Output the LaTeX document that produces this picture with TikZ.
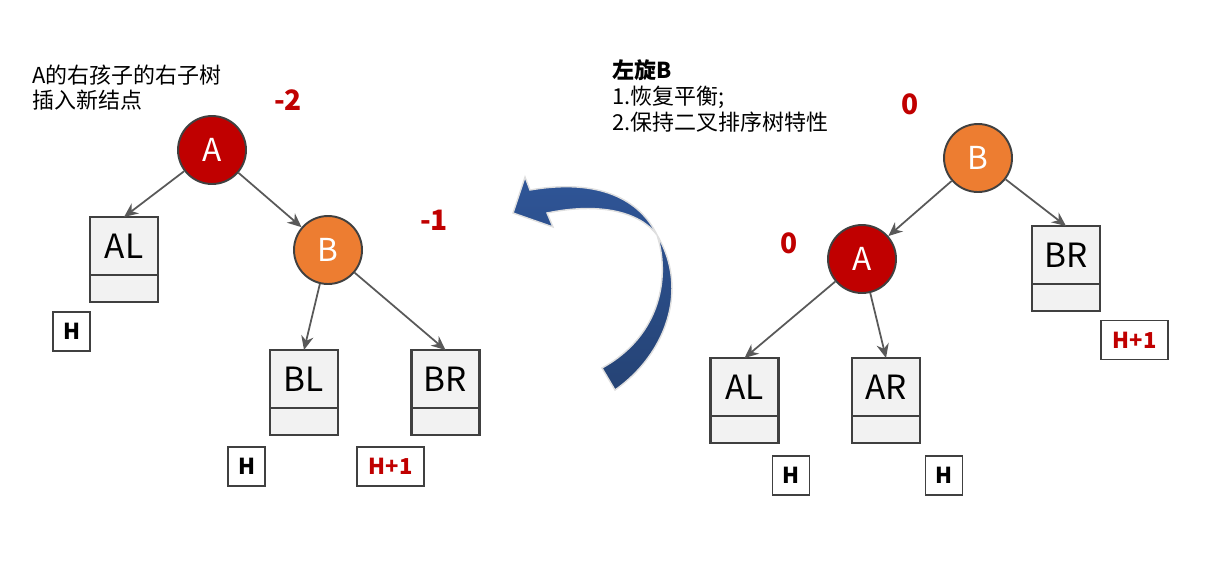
\documentclass[tikz,border=0pt]{standalone}
\usepackage{fontspec}
\newfontfamily\cjk{Noto Sans CJK SC}
\usetikzlibrary{positioning,arrows.meta}

\definecolor{nodered}{HTML}{C00000}
\definecolor{nodeorange}{HTML}{ED7D31}
\definecolor{edgegray}{HTML}{595959}
\definecolor{boxgray}{HTML}{F2F2F2}
\definecolor{linegray}{HTML}{404040}
\definecolor{arrowtop}{HTML}{2F5597}
\definecolor{arrowbot}{HTML}{254375}

\tikzset{
  treenode/.style={circle, draw=linegray, line width=1.1pt, minimum size=1.36cm,
    inner sep=0pt, text=white, font=\cjk\fontsize{18}{20}\selectfont},
  subtree/.style={rectangle, draw=linegray, fill=boxgray, line width=1.5pt,
    minimum width=1.36cm, minimum height=1.16cm, inner sep=0pt, outer sep=0pt,
    font=\cjk\fontsize{19}{22}\selectfont},
  subfoot/.style={rectangle, draw=linegray, fill=boxgray, line width=1.5pt,
    minimum width=1.36cm, minimum height=0.54cm, inner sep=0pt, outer sep=0pt},
  heightbox/.style={rectangle, draw=linegray, line width=0.8pt, minimum height=0.78cm,
    minimum width=0.74cm, inner sep=0pt, font=\cjk\bfseries\fontsize{12.5}{14}\selectfont},
  balance/.style={text=nodered, font=\cjk\bfseries\fontsize{16}{18}\selectfont},
  edge/.style={draw=edgegray, line width=1pt, -{Stealth[length=8pt,width=7pt]}},
  note/.style={align=left, anchor=west, inner sep=0pt}
}

\begin{document}
\begin{tikzpicture}[x=0.02cm, y=-0.02cm]

    \useasboundingbox (0,0) rectangle (1222,565);

    %----- NOTES -----
    \node[note, font=\cjk\fontsize{12.5}{14.2}\selectfont] (leftnote) at (32,87.5)
        {A的右孩子的右子树\\插入新结点};
    \node[note, font=\cjk\fontsize{12.5}{14.8}\selectfont] (rightnote) at (612,96)
        {{\bfseries 左旋B}\\1.恢复平衡;\\2.保持二叉排序树特性};

    %----- LEFT TREE (UNBALANCED) -----
    \node[treenode, fill=nodered] (lA) at (212,150) {A};
    \node[treenode, fill=nodeorange] (lB) at (328,250) {B};
    \node[balance] (lAbal) at (288,100) {-2};
    \node[balance] (lBbal) at (434,220) {-1};

    %----- RIGHT TREE (AFTER ROTATION) -----
    \node[treenode, fill=nodeorange] (rB) at (978,158) {B};
    \node[treenode, fill=nodered] (rA) at (862,259) {A};
    \node[balance] (rBbal) at (910,104) {0};
    \node[balance] (rAbal) at (789,243) {0};

    %----- SUBTREE BOXES -----
    \foreach \name/\lbl/\x/\y in {lAL/AL/124/246, lBL/BL/304/379, lBR/BR/445.5/379,
                                  rAL/AL/744.5/387, rAR/AR/886/387, rBR/BR/1066/255} {
        \node[subtree] (\name) at (\x,\y) {\lbl};
        \node[subfoot, below=0pt of \name] (\name foot) {};
    }

    %----- HEIGHTS -----
    \node[heightbox] (lALh) at (71.5,331.5) {H};
    \node[heightbox] (lBLh) at (246.5,466.5) {H};
    \node[heightbox, minimum width=1.34cm, text=nodered] (lBRh) at (390.5,466.5) {H+1};
    \node[heightbox] (rALh) at (791,475.5) {H};
    \node[heightbox] (rARh) at (944,475.5) {H};
    \node[heightbox, minimum width=1.34cm, text=nodered] (rBRh) at (1134.5,340) {H+1};

    %----- EDGES -----
    \draw[edge] (lA) -- (lAL.north);
    \draw[edge] (lA) -- (lB);
    \draw[edge] (lB) -- (lBL.north);
    \draw[edge] (lB) -- (lBR.north);
    \draw[edge] (rB) -- (rA);
    \draw[edge] (rB) -- (rBR.north);
    \draw[edge] (rA) -- (rAL.north);
    \draw[edge] (rA) -- (rAR.north);

    %----- CURVED ROTATION ARROW -----
    \path[top color=arrowtop, bottom color=arrowbot, draw=gray!25, line width=0.8pt]
        (615,390) .. controls (665,355) and (690,290) .. (657,235)
        .. controls (640,200) and (600,178) .. (530,190)
        -- (525,177) -- (513,213) -- (553,227) -- (547,213)
        .. controls (600,202) and (640,212) .. (657,235)
        .. controls (670,275) and (662,335) .. (602,368) -- cycle;

\end{tikzpicture}
\end{document}
